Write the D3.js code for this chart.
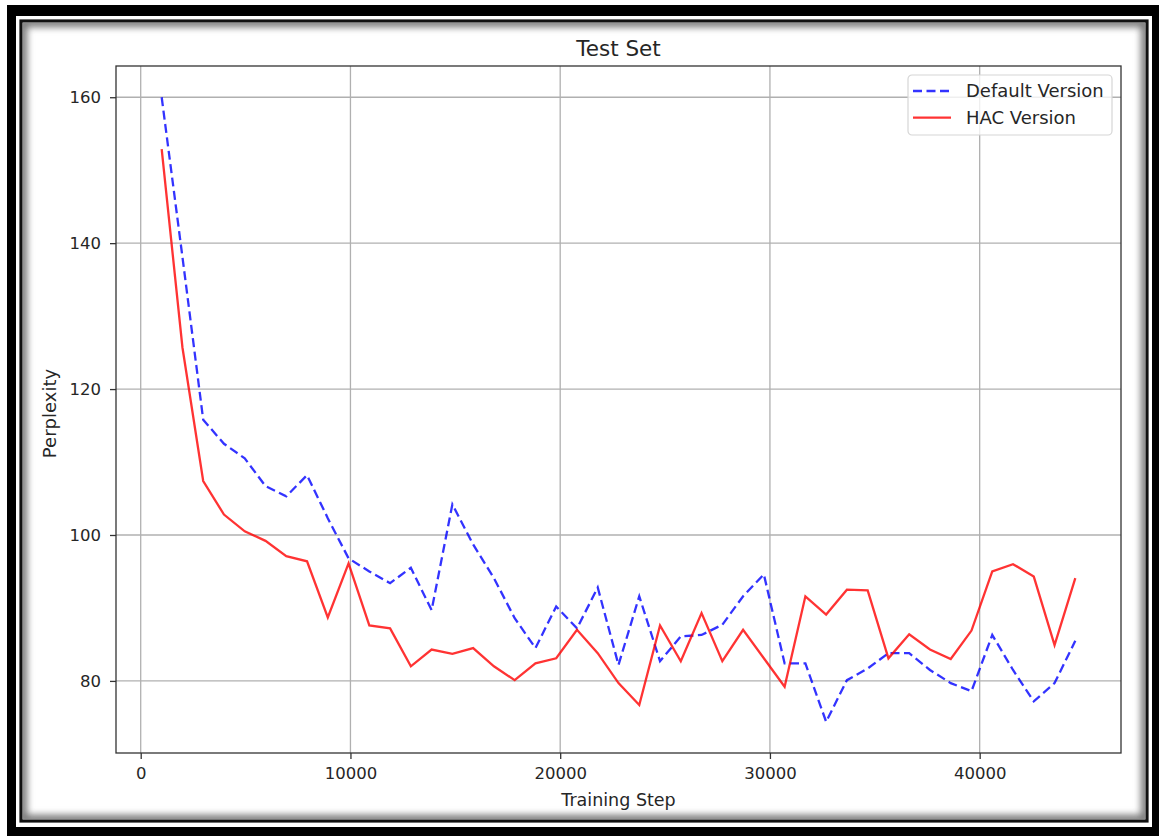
<!DOCTYPE html>
<html>
<head>
<meta charset="utf-8">
<script src="https://cdn.jsdelivr.net/npm/d3@7"></script>
<style>
  body { margin: 0; background: #fff; }
  svg { display: block; font-family: "DejaVu Sans", sans-serif; }
</style>
</head>
<body>
<script>
// evaluation steps (x) and perplexity per version
const steps = [1000, 1990, 2980, 3970, 4960, 5950, 6940, 7930, 8920, 9910,
  10900, 11890, 12880, 13870, 14860, 15850, 16840, 17830, 18820, 19810,
  20800, 21790, 22780, 23770, 24760, 25750, 26740, 27730, 28720, 29710,
  30700, 31690, 32680, 33670, 34660, 35650, 36640, 37630, 38620, 39610,
  40600, 41590, 42580, 43570, 44560];
const defaultVersion = [160, 138.1, 115.8, 112.5, 110.5, 106.7, 105.3, 108.2, 102.3, 96.8,
  95.0, 93.4, 95.5, 89.7, 104.2, 98.7, 94.1, 88.6, 84.5, 90.2,
  87.2, 92.8, 82.2, 91.6, 82.7, 86.1, 86.3, 87.7, 91.6, 94.6,
  82.4, 82.4, 74.4, 80.1, 81.7, 83.8, 83.8, 81.5, 79.7, 78.6,
  86.3, 81.5, 77.2, 79.7, 85.5];
const hacVersion = [152.9, 125.7, 107.4, 102.8, 100.5, 99.2, 97.1, 96.4, 88.7, 96.1,
  87.6, 87.2, 82.0, 84.3, 83.7, 84.5, 82.0, 80.1, 82.4, 83.1,
  87.0, 83.8, 79.7, 76.7, 87.6, 82.7, 89.3, 82.7, 87.0, 83.1,
  79.2, 91.6, 89.1, 92.5, 92.4, 83.1, 86.4, 84.3, 83.0, 86.9,
  95.0, 96.0, 94.3, 84.9, 94.1];
const xTicks = [0, 10000, 20000, 30000, 40000];
const yTicks = [80, 100, 120, 140, 160];
const seriesNames = ["Default Version", "HAC Version"];

const totalWidth = 1159;
const totalHeight = 836;
const margin = { top: 66, right: 38, bottom: 83, left: 116 };
const width = totalWidth - margin.left - margin.right;
const height = totalHeight - margin.top - margin.bottom;

const svg = d3.select("body")
  .append("svg")
  .attr("width", totalWidth)
  .attr("height", totalHeight);

// picture frame: thick black border, white gap, thin line, inset shadow
svg.append("rect").attr("x", 7).attr("y", 5)
  .attr("width", totalWidth - 7).attr("height", totalHeight - 5).attr("fill", "#000");
svg.append("rect").attr("x", 16).attr("y", 16)
  .attr("width", 1136).attr("height", 811).attr("fill", "#fff");
svg.append("rect").attr("x", 21).attr("y", 21)
  .attr("width", 1126).attr("height", 800)
  .attr("fill", "#fff").attr("stroke", "#111").attr("stroke-width", 3.2);

const defs = svg.append("defs");
defs.append("clipPath").attr("id", "inner")
  .append("rect").attr("x", 22.6).attr("y", 22.6).attr("width", 1122.8).attr("height", 796.8);
defs.append("filter").attr("id", "soft")
  .attr("x", "-5%").attr("y", "-5%").attr("width", "110%").attr("height", "110%")
  .append("feGaussianBlur").attr("stdDeviation", 3.5);
svg.append("g").attr("clip-path", "url(#inner)")
  .append("rect").attr("x", 22.6).attr("y", 22.6).attr("width", 1122.8).attr("height", 796.8)
  .attr("fill", "none").attr("stroke", "#777").attr("stroke-width", 9)
  .attr("filter", "url(#soft)");

const g = svg.append("g")
  .attr("transform", `translate(${margin.left}, ${margin.top})`);

// matplotlib style 5% margins around the data
const xExt = d3.extent(steps);
const xPad = (xExt[1] - xExt[0]) * 0.05;
const allY = defaultVersion.concat(hacVersion);
const yExt = d3.extent(allY);
const yPad = (yExt[1] - yExt[0]) * 0.05;

const xScale = d3.scaleLinear()
  .domain([xExt[0] - xPad, xExt[1] + xPad])
  .range([0, width]);

const yScale = d3.scaleLinear()
  .domain([yExt[0] - yPad, yExt[1] + yPad])
  .range([height, 0]);

// grid
g.append("g").selectAll("line")
  .data(xTicks).enter().append("line")
  .attr("x1", d => xScale(d)).attr("x2", d => xScale(d))
  .attr("y1", 0).attr("y2", height)
  .attr("stroke", "#b0b0b0").attr("stroke-width", 1.3);
g.append("g").selectAll("line")
  .data(yTicks).enter().append("line")
  .attr("x1", 0).attr("x2", width)
  .attr("y1", d => yScale(d)).attr("y2", d => yScale(d))
  .attr("stroke", "#b0b0b0").attr("stroke-width", 1.3);

// lines
const series = [
  { name: seriesNames[0], values: defaultVersion, color: "#0000ff", dash: "9,4.5" },
  { name: seriesNames[1], values: hacVersion, color: "#ff0000", dash: null }
];

const line = d3.line()
  .x((d, i) => xScale(steps[i]))
  .y(d => yScale(d));

g.selectAll(".series")
  .data(series)
  .enter()
  .append("path")
  .attr("class", "series")
  .attr("d", d => line(d.values))
  .attr("fill", "none")
  .attr("stroke", d => d.color)
  .attr("stroke-opacity", 0.8)
  .attr("stroke-width", 2.3)
  .attr("stroke-dasharray", d => d.dash);

// axes
const xAxis = g.append("g")
  .attr("transform", `translate(0, ${height})`)
  .call(d3.axisBottom(xScale).tickValues(xTicks).tickFormat(d3.format("d"))
    .tickSizeInner(6).tickSizeOuter(0).tickPadding(8));

const yAxis = g.append("g")
  .call(d3.axisLeft(yScale).tickValues(yTicks).tickFormat(d3.format("d"))
    .tickSizeInner(6).tickSizeOuter(0).tickPadding(9));

[xAxis, yAxis].forEach(ax => {
  ax.select(".domain").remove();
  ax.selectAll(".tick line").attr("stroke", "#333").attr("stroke-width", 1.3);
  ax.selectAll(".tick text")
    .attr("fill", "#262626")
    .style("font-family", "DejaVu Sans")
    .style("font-size", "16.5px");
});

// frame of the axes
g.append("rect")
  .attr("width", width).attr("height", height)
  .attr("fill", "none").attr("stroke", "#333").attr("stroke-width", 1.3);

// labels
g.append("text")
  .attr("x", width / 2)
  .attr("y", -10)
  .attr("text-anchor", "middle")
  .attr("fill", "#262626")
  .style("font-size", "21.5px")
  .text("Test Set");

g.append("text")
  .attr("x", width / 2)
  .attr("y", height + 53)
  .attr("text-anchor", "middle")
  .attr("fill", "#262626")
  .style("font-size", "17.5px")
  .text("Training Step");

g.append("text")
  .attr("transform", "rotate(-90)")
  .attr("x", -(height / 2) - 4)
  .attr("y", -60)
  .attr("text-anchor", "middle")
  .attr("fill", "#262626")
  .style("font-size", "18px")
  .text("Perplexity");

// legend
const legend = g.append("g")
  .attr("transform", `translate(${width - 213}, 9)`);

legend.append("rect")
  .attr("width", 204).attr("height", 60)
  .attr("rx", 4)
  .attr("fill", "#fff").attr("fill-opacity", 0.8)
  .attr("stroke", "#d6d6d6").attr("stroke-width", 1.2);

const rows = legend.selectAll(".row")
  .data(series)
  .enter()
  .append("g")
  .attr("class", "row")
  .attr("transform", (d, i) => `translate(0, ${16 + i * 26.7})`);

rows.append("line")
  .attr("x1", 5).attr("x2", 43)
  .attr("stroke", d => d.color)
  .attr("stroke-opacity", 0.8)
  .attr("stroke-width", 2.3)
  .attr("stroke-dasharray", d => d.dash);

rows.append("text")
  .attr("x", 58)
  .attr("dy", "0.36em")
  .attr("fill", "#262626")
  .style("font-size", "18px")
  .text(d => d.name);
</script>
</body>
</html>
